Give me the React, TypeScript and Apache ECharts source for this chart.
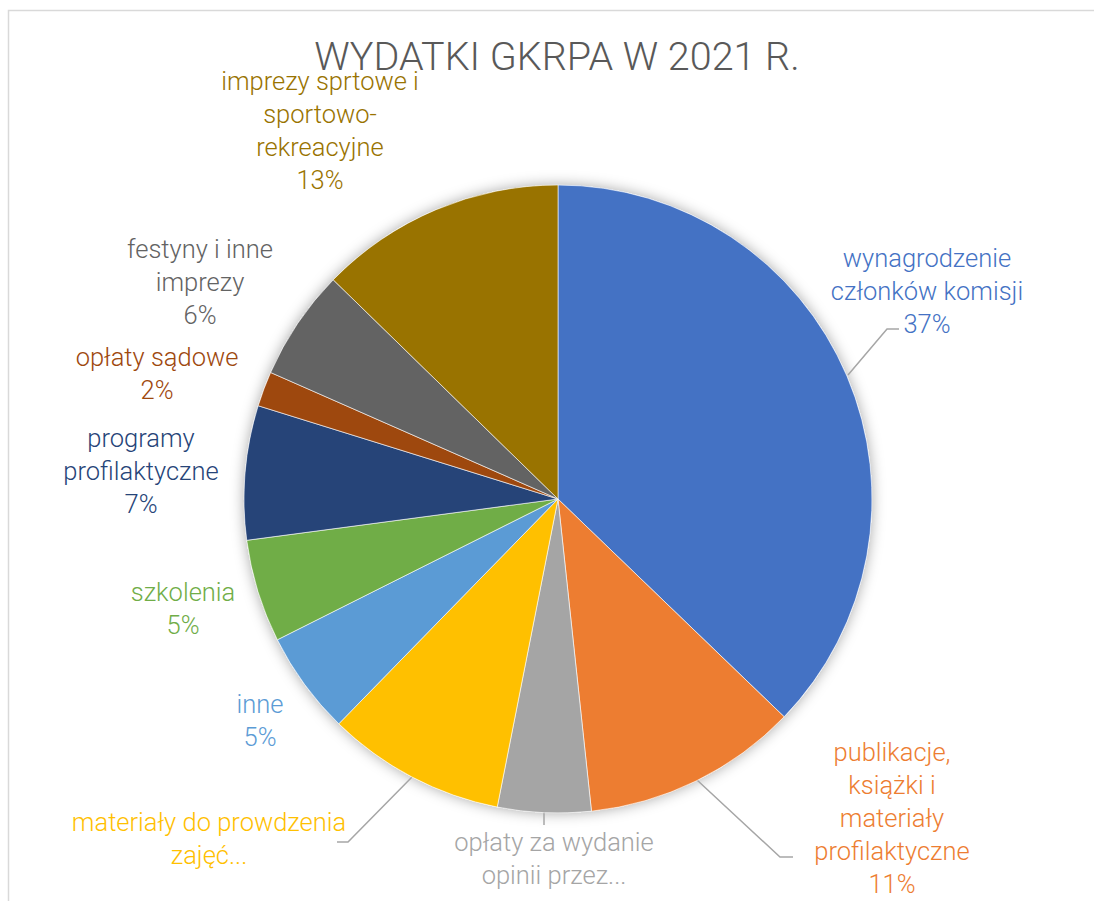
import React, { useEffect, useRef } from "react";
import * as echarts from "echarts";

const titleText = "WYDATKI GKRPA W 2021 R.";

const categories = [
  "wynagrodzenie członków komisji",
  "publikacje, książki i materiały profilaktyczne",
  "opłaty za wydanie opinii przez...",
  "materiały do prowdzenia zajęć...",
  "inne",
  "szkolenia",
  "programy profilaktyczne",
  "opłaty sądowe",
  "festyny i inne imprezy",
  "imprezy sprtowe i sportowo-rekreacyjne",
];

// share of spending (percent)
const values = [37.2, 11.1, 4.8, 9.2, 5.3, 5.3, 6.9, 1.8, 5.7, 12.7];

const labelTexts = [
  "wynagrodzenie\nczłonków komisji",
  "publikacje,\nksiążki i\nmateriały\nprofilaktyczne",
  "opłaty za wydanie\nopinii przez...",
  "materiały do prowdzenia\nzajęć...",
  "inne",
  "szkolenia",
  "programy\nprofilaktyczne",
  "opłaty sądowe",
  "festyny i inne\nimprezy",
  "imprezy sprtowe i\nsportowo-\nrekreacyjne",
];

const showPercent = [true, true, false, false, true, true, true, true, true, true];

const colors = [
  "#4472C4",
  "#ED7D31",
  "#A5A5A5",
  "#FFC000",
  "#5B9BD5",
  "#70AD47",
  "#264478",
  "#9E480E",
  "#636363",
  "#997300",
];

// layout (label block centres and leader lines), pixels
const labelPos: number[][] = [
  [927, 291],
  [892, 818],
  [554, 858],
  [209, 838],
  [260, 720],
  [183, 608],
  [141, 471],
  [157, 373],
  [200, 282],
  [320, 130],
];

const leaderLines: (number[][] | null)[] = [
  [[848, 375], [887, 329], [899, 329]],
  [[697, 780], [780, 857], [793, 857]],
  [[544, 812], [544, 825]],
  [[412, 777], [348, 842], [337, 842]],
  null,
  null,
  null,
  null,
  null,
  null,
];

const CX = 558;
const CY = 499;
const R = 314;

export default function App() {
  const ref = useRef<HTMLDivElement>(null);

  useEffect(() => {
    if (!ref.current) return;
    const chart = echarts.init(ref.current, null, { renderer: "svg" });

    const data = categories.map((name, i) => ({
      name,
      value: values[i],
      itemStyle: { color: colors[i] },
      label: { color: colors[i] },
      labelLine: { show: leaderLines[i] != null },
    }));

    chart.setOption({
      animation: false,
      backgroundColor: "#ffffff",
      graphic: [
        {
          type: "rect",
          shape: { x: 8.5, y: 10.5, width: 1200, height: 1000 },
          style: { fill: "none", stroke: "#d9d9d9", lineWidth: 1.5 },
          silent: true,
          z: -10,
        },
        {
          type: "text",
          x: 557,
          y: 56,
          style: {
            text: titleText,
            fill: "#595959",
            fontFamily: "Roboto",
            fontWeight: 300,
            fontSize: 39.5,
            align: "center",
            verticalAlign: "middle",
          },
          silent: true,
        },
      ],
      series: [
        {
          type: "pie",
          silent: true,
          center: [CX, CY],
          radius: R,
          label: { show: false },
          labelLine: { show: false },
          itemStyle: {
            color: "#ffffff",
            shadowBlur: 14,
            shadowColor: "rgba(0,0,0,0.35)",
          },
          data: [{ value: 1, name: "bg" }],
          z: 1,
        },
        {
          type: "pie",
          center: [CX, CY],
          radius: R,
          startAngle: 90,
          clockwise: true,
          avoidLabelOverlap: false,
          percentPrecision: 0,
          itemStyle: { borderColor: "#ffffff", borderWidth: 0.6 },
          label: {
            show: true,
            position: "outside",
            fontFamily: "Roboto",
            fontWeight: 300,
            fontSize: 25.5,
            lineHeight: 33,
            width: 500,
            overflow: "none",
            align: "center",
            formatter: (p: any) =>
              labelTexts[p.dataIndex] +
              (showPercent[p.dataIndex] ? "\n" + p.percent + "%" : ""),
          },
          labelLine: {
            show: true,
            lineStyle: { color: "#a6a6a6", width: 1.5 },
          },
          labelLayout: (params: any) => {
            const i = params.dataIndex;
            const pos = labelPos[i];
            const out: any = {
              x: pos[0],
              y: pos[1],
              align: "center",
              verticalAlign: "middle",
            };
            if (leaderLines[i]) out.labelLinePoints = leaderLines[i];
            return out;
          },
          data,
          z: 2,
        },
      ],
    });

    return () => chart.dispose();
  }, []);

  return (
    <div
      ref={ref}
      style={{ position: "fixed", left: 0, top: 0, width: 1094, height: 901 }}
    />
  );
}
